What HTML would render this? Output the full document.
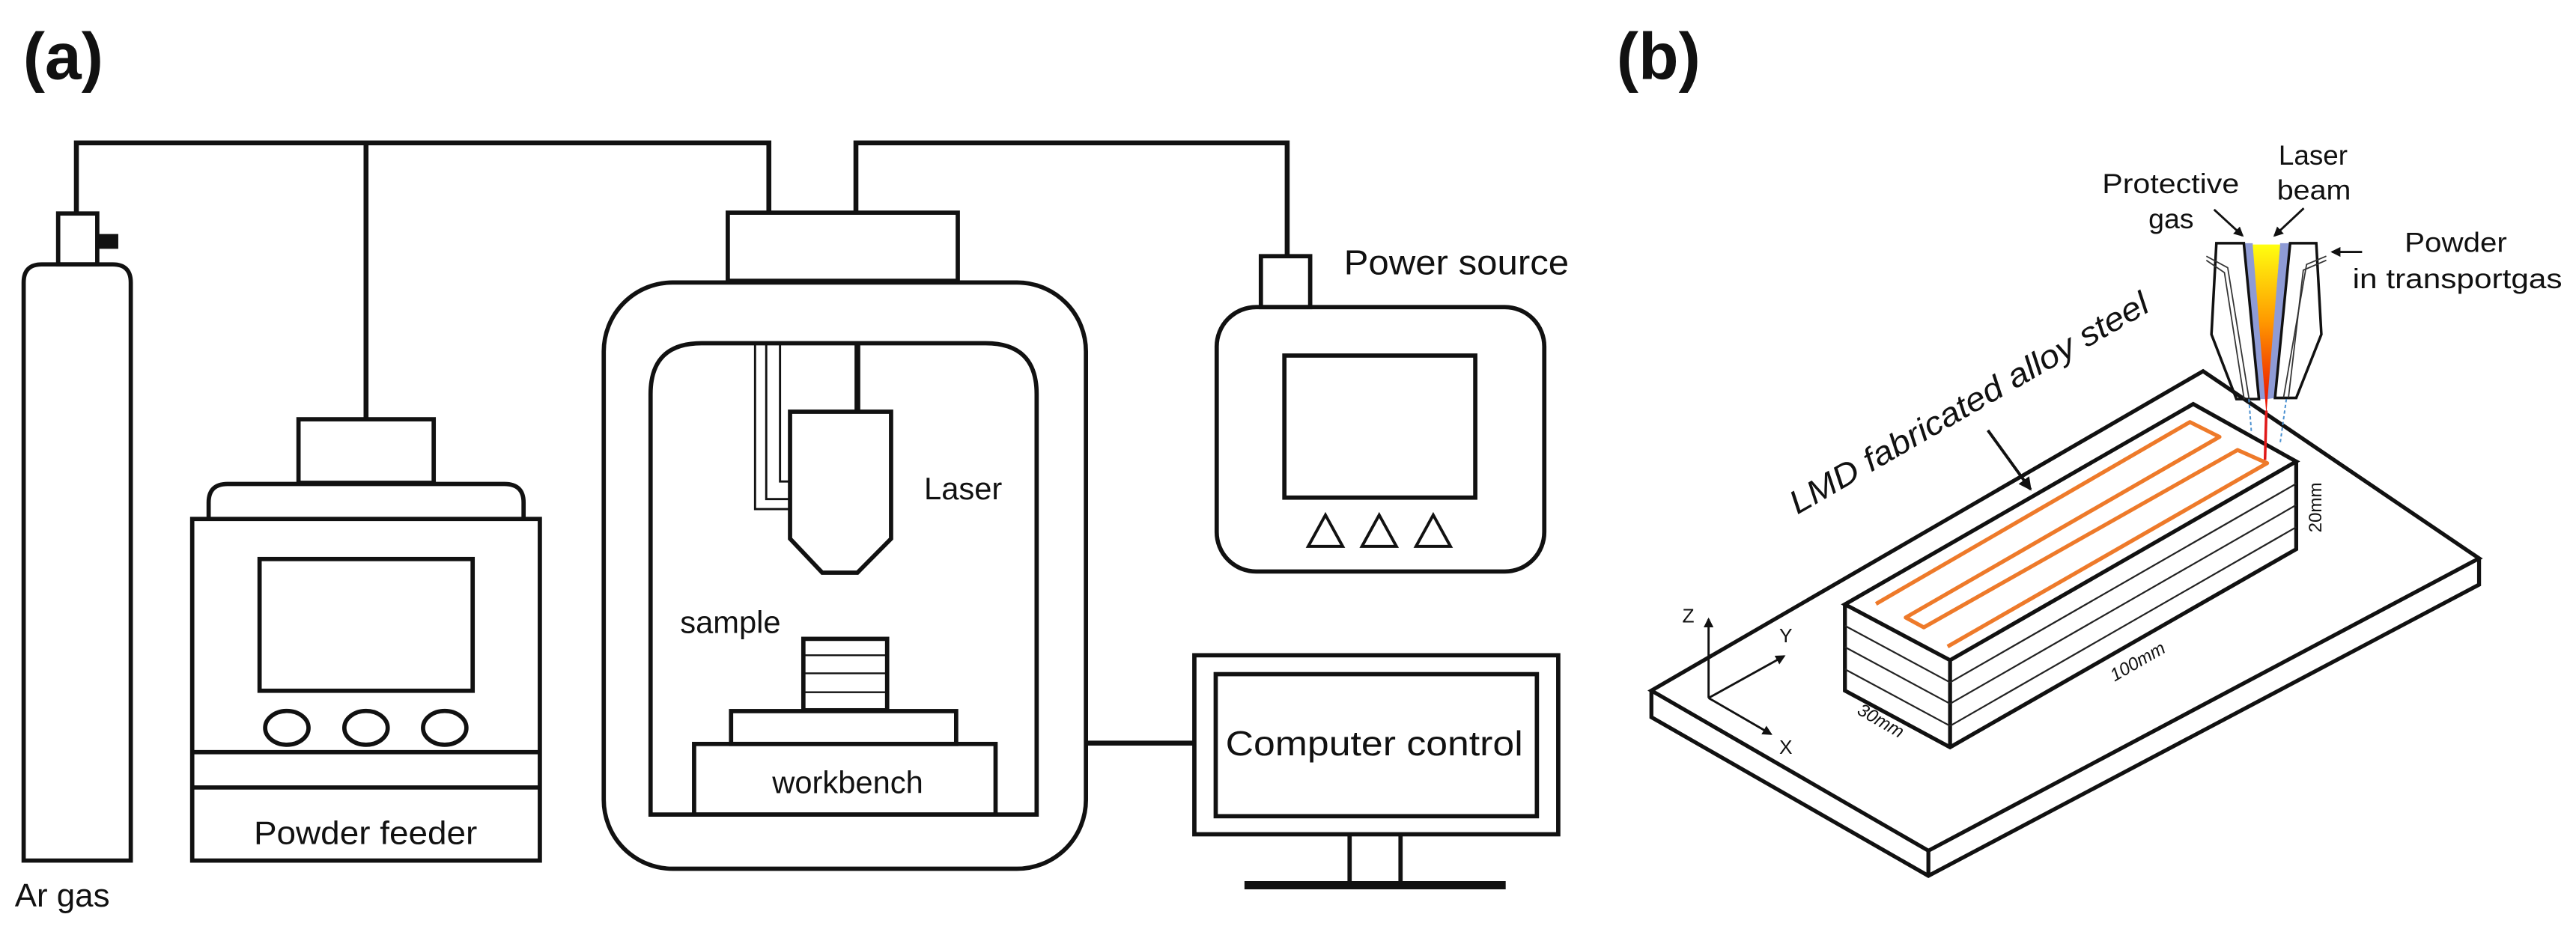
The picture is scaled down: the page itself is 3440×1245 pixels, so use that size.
<!DOCTYPE html>
<html><head><meta charset="utf-8"><style>html,body{margin:0;padding:0;background:#fff}svg{display:block}text{font-family:"Liberation Sans",sans-serif;fill:#111}</style></head>
<body>
<svg width="3440" height="1245" viewBox="0 0 1568 567.5" preserveAspectRatio="none" xmlns="http://www.w3.org/2000/svg">
<defs>
<linearGradient id="bm" x1="0" y1="0" x2="0" y2="1"><stop offset="0" stop-color="#ffff10"/><stop offset="0.45" stop-color="#ff9a00"/><stop offset="1" stop-color="#e80000"/></linearGradient>
<marker id="ar" markerWidth="8" markerHeight="8" refX="7" refY="4" orient="auto" markerUnits="userSpaceOnUse"><path d="M0,0 L8,4 L0,8 Z" fill="#111"/></marker>
<marker id="ar2" markerWidth="6" markerHeight="6" refX="5" refY="3" orient="auto" markerUnits="userSpaceOnUse"><path d="M0,0 L6,3 L0,6 Z" fill="#111"/></marker>
</defs>
<rect width="1568" height="567.5" fill="#fff"/>
<text x="14" y="48" font-size="40" font-weight="bold">(a)</text>
<text x="984" y="48" font-size="40" font-weight="bold">(b)</text>

<g fill="none" stroke="#111" stroke-width="2.6">
<polyline points="46.5,130 46.5,87 468,87 468,129" stroke-width="3"/>
<line x1="222.8" y1="87" x2="222.8" y2="255" stroke-width="3"/>
<polyline points="521,129 521,87 783.5,87 783.5,156" stroke-width="3"/>
<line x1="661" y1="452.5" x2="727" y2="452.5" stroke-width="3"/>

<rect x="35.4" y="130" width="23.8" height="31"/>
<rect x="60" y="142.5" width="12" height="9" fill="#111" stroke="none"/>
<path d="M14.4,524 V172 Q14.4,161 25.4,161 H68.6 Q79.6,161 79.6,172 V524 Z"/>

<rect x="181.7" y="255.3" width="82.3" height="38.7"/>
<path d="M127,316 V306 Q127,294.7 138.5,294.7 H307 Q318.7,294.7 318.7,306 V316"/>
<rect x="117" y="316" width="211.6" height="208"/>
<rect x="158" y="340.4" width="129.7" height="80.2"/>
<ellipse cx="174.6" cy="443.2" rx="13.2" ry="10.3"/>
<ellipse cx="222.8" cy="443.2" rx="13.2" ry="10.3"/>
<ellipse cx="270.7" cy="443.2" rx="13.2" ry="10.3"/>
<line x1="117" y1="458" x2="328.6" y2="458"/>
<line x1="117" y1="479.5" x2="328.6" y2="479.5"/>

<rect x="443" y="129.5" width="140" height="41.5"/>
<rect x="367.5" y="172" width="293.5" height="357" rx="42" ry="42"/>
<path d="M396,496 V240 Q396,209 427,209 H600 Q631,209 631,240 V496 Z"/>
<line x1="521.9" y1="209" x2="521.9" y2="250.7" stroke-width="3.5"/>
<path d="M480.9,250.7 H542.4 V328 L521.9,348.7 H500.5 L480.9,328 Z"/>
<g stroke-width="1.3">
<polyline points="459.6,209 459.6,310 480.9,310"/>
<polyline points="466.4,209 466.4,303.9 480.9,303.9"/>
<polyline points="474.8,209 474.8,293.2 480.9,293.2"/>
</g>
<rect x="489" y="389" width="51" height="43.5"/>
<g stroke-width="1.1"><line x1="489" y1="399" x2="540" y2="399"/><line x1="489" y1="410" x2="540" y2="410"/><line x1="489" y1="421.5" x2="540" y2="421.5"/></g>
<rect x="445" y="433" width="137" height="20"/>
<rect x="422.5" y="453" width="183.5" height="43"/>

<rect x="767.5" y="156" width="30" height="31"/>
<rect x="740.6" y="187" width="199.4" height="161" rx="24" ry="24"/>
<rect x="781.8" y="216.5" width="116.2" height="86.5"/>
<polygon points="806.8,313.6 796.3,332.7 817.3,332.7" stroke-width="1.8"/>
<polygon points="839.5,313.6 829,332.7 850,332.7" stroke-width="1.8"/>
<polygon points="872.4,313.6 861.9,332.7 882.9,332.7" stroke-width="1.8"/>

<rect x="727" y="399" width="221.5" height="109"/>
<rect x="740" y="410.5" width="195.5" height="86.5"/>
<line x1="821.5" y1="508" x2="821.5" y2="537"/>
<line x1="852.5" y1="508" x2="852.5" y2="537"/>
<line x1="757.5" y1="539" x2="916.5" y2="539" stroke-width="5"/>
</g>

<text x="9" y="552" font-size="20">Ar gas</text>
<text x="222.5" y="514" font-size="20" text-anchor="middle" textLength="136" lengthAdjust="spacingAndGlyphs">Powder feeder</text>
<text x="562.5" y="304" font-size="19">Laser</text>
<text x="414" y="385.5" font-size="19">sample</text>
<text x="516" y="483" font-size="19" text-anchor="middle">workbench</text>
<text x="818" y="167" font-size="21" textLength="137" lengthAdjust="spacingAndGlyphs">Power source</text>
<text x="746" y="460" font-size="21" textLength="181" lengthAdjust="spacingAndGlyphs">Computer control</text>

<g fill="none" stroke="#111" stroke-width="2.4" stroke-linejoin="miter">
<polygon points="1005.2,420.5 1341,226 1509,340 1173.8,518"/>
<polyline points="1005.2,420.5 1005.2,436.7 1173.8,533.3 1509,356 1509,340"/>
<line x1="1173.8" y1="518" x2="1173.8" y2="533.3"/>
<polygon points="1123,368 1335,246 1397.7,281 1187,402"/>
<polyline points="1123,368 1123,420.5 1187,455 1397.7,334.4 1397.7,281"/>
<line x1="1187" y1="402" x2="1187" y2="455"/>
</g>
<g fill="none" stroke="#222" stroke-width="1">
<line x1="1123" y1="381" x2="1187" y2="415.5"/><line x1="1123" y1="394" x2="1187" y2="428.5"/><line x1="1123" y1="407.5" x2="1187" y2="442"/>
<line x1="1187" y1="415.5" x2="1397.7" y2="294.5"/><line x1="1187" y1="428.5" x2="1397.7" y2="307.5"/><line x1="1187" y1="442" x2="1397.7" y2="321"/>
</g>
<polyline points="1141.9,367.7 1333,257 1351,266 1160,376 1171,382 1362,274 1380,282 1185.5,393.7" fill="none" stroke="#ee7a2a" stroke-width="2.4" stroke-linejoin="round"/>

<g stroke="#111" stroke-width="1.3" fill="none">
<line x1="1040" y1="425" x2="1040" y2="377" marker-end="url(#ar2)"/>
<line x1="1040" y1="425" x2="1086" y2="399.5" marker-end="url(#ar2)"/>
<line x1="1040" y1="425" x2="1078" y2="447" marker-end="url(#ar2)"/>
</g>
<text x="1024" y="379" font-size="12">Z</text>
<text x="1083" y="391" font-size="12">Y</text>
<text x="1083" y="459" font-size="12">X</text>
<text transform="translate(1303,406) rotate(-30)" font-size="11" font-style="italic" text-anchor="middle">100mm</text>
<text transform="translate(1143,442) rotate(30)" font-size="11" font-style="italic" text-anchor="middle">30mm</text>
<text transform="translate(1413,309) rotate(-90)" font-size="11" text-anchor="middle">20mm</text>
<text transform="translate(1094,313.5) rotate(-30)" font-size="20" font-style="italic" textLength="249" lengthAdjust="spacingAndGlyphs">LMD fabricated alloy steel</text>
<line x1="1210" y1="262" x2="1236" y2="298" stroke="#111" stroke-width="1.8" marker-end="url(#ar)"/>

<polygon points="1365.8,148.1 1371.2,148.1 1380,243 1375,243" fill="#8e9bd6"/>
<polygon points="1387.9,148.1 1394,148.1 1384.8,242.3 1380,243" fill="#8e9bd6"/>
<polygon points="1371.2,148.9 1387.9,148.9 1379.5,252.2" fill="url(#bm)"/>
<line x1="1379.5" y1="250" x2="1378.7" y2="280" stroke="#e01818" stroke-width="1.6"/>
<g fill="none" stroke="#111" stroke-width="1.6">
<polygon points="1349.1,148.1 1365.8,148.1 1375,243 1361.3,243 1346.1,203.6"/>
<polygon points="1394,148.1 1409.9,148.1 1413,203.6 1397.7,242.3 1384.8,242.3"/>
</g>
<g fill="none" stroke="#333" stroke-width="0.8">
<polyline points="1343,156 1356,163 1369,243"/><polyline points="1343,158.5 1354,166 1366,243"/>
<polyline points="1416,156 1404,161 1390,242"/><polyline points="1416,158.5 1402,164.5 1393,242"/>
</g>
<g stroke="#4a90d0" stroke-width="0.9" stroke-dasharray="2,1.5" fill="none">
<line x1="1368.9" y1="243" x2="1370.4" y2="263"/><line x1="1391.7" y1="243" x2="1387.9" y2="270"/>
</g>
<g stroke="#111" stroke-width="1.3" fill="none">
<line x1="1347.7" y1="127.6" x2="1365" y2="143.5" marker-end="url(#ar2)"/>
<line x1="1402.3" y1="126.8" x2="1384.5" y2="143.5" marker-end="url(#ar2)"/>
<line x1="1437.8" y1="153.4" x2="1419.6" y2="153.4" marker-end="url(#ar2)"/>
</g>
<g font-size="17">
<text x="1387" y="100.2" textLength="42" lengthAdjust="spacingAndGlyphs">Laser</text>
<text x="1386" y="121.5" textLength="45" lengthAdjust="spacingAndGlyphs">beam</text>
<text x="1279.6" y="117.7" textLength="83.4" lengthAdjust="spacingAndGlyphs">Protective</text>
<text x="1307.8" y="139" textLength="27.5" lengthAdjust="spacingAndGlyphs">gas</text>
<text x="1463.7" y="153.4" textLength="62.3" lengthAdjust="spacingAndGlyphs">Powder</text>
<text x="1432" y="175.4" textLength="127.6" lengthAdjust="spacingAndGlyphs">in transportgas</text>
</g>
</svg>
</body></html>
